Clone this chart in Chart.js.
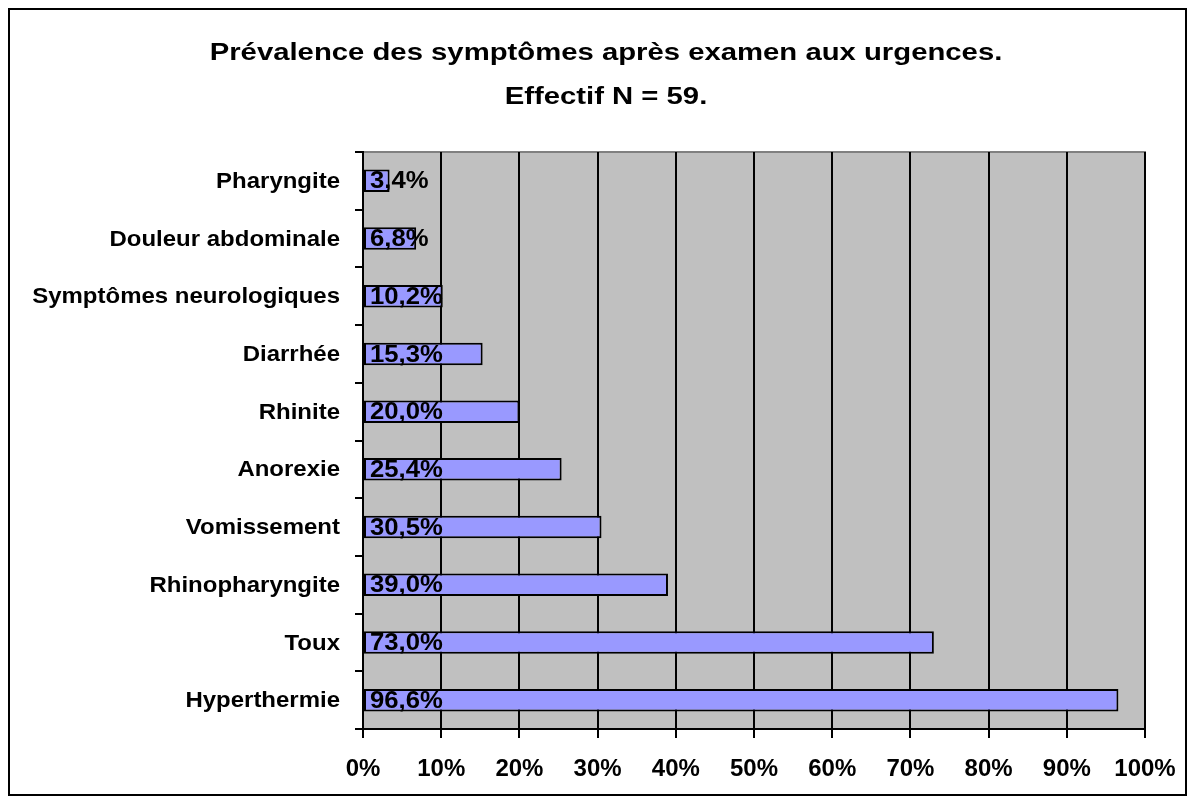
<!DOCTYPE html>
<html>
<head>
    <title>Prévalence des symptômes</title>
    <style>
        body { margin: 0; background: #fff; }
    </style>
    <script src="https://cdn.jsdelivr.net/npm/chart.js"></script>
</head>
<body>
    <canvas id="myChart" width="1194" height="803"></canvas>
    <script>
        // Data, top to bottom
        const symptoms = ['Pharyngite', 'Douleur abdominale', 'Symptômes neurologiques', 'Diarrhée', 'Rhinite',
            'Anorexie', 'Vomissement', 'Rhinopharyngite', 'Toux', 'Hyperthermie'];
        const prevalence = [3.4, 6.8, 10.2, 15.3, 20.0, 25.4, 30.5, 39.0, 73.0, 96.6];
        const titleLines = ['Prévalence des symptômes après examen aux urgences.', 'Effectif N = 59.'];

        const FONT = '"Liberation Sans", Arial, sans-serif';

        // the original text is drawn horizontally stretched, so scale it
        function wide(c, txt, x, y, sx, align) {
            c.save();
            c.translate(x, y);
            c.scale(sx, 1);
            c.textAlign = align;
            c.fillText(txt, 0, 0);
            c.restore();
        }

        const decor = {
            id: 'decor',
            beforeDraw(chart) {
                const c = chart.ctx, a = chart.chartArea;
                c.save();
                c.fillStyle = '#fff';
                c.fillRect(0, 0, chart.width, chart.height);
                c.fillStyle = '#c0c0c0';
                c.fillRect(a.left, a.top, a.right - a.left, a.bottom - a.top);
                c.strokeStyle = '#808080';
                c.lineWidth = 2;
                c.strokeRect(a.left, a.top, a.right - a.left, a.bottom - a.top);
                c.strokeStyle = '#000';
                c.lineWidth = 2;
                c.strokeRect(9, 9, 1177, 786);
                c.fillStyle = '#000';
                c.font = 'bold 24px ' + FONT;
                c.textBaseline = 'middle';
                wide(c, titleLines[0], 606, 53, 1.22, 'center');
                wide(c, titleLines[1], 606, 97, 1.22, 'center');
                c.restore();
            },
            afterDatasetsDraw(chart) {
                const c = chart.ctx, a = chart.chartArea;
                const meta = chart.getDatasetMeta(0);
                const ys = chart.scales.y;
                c.save();
                c.fillStyle = '#000';
                c.textBaseline = 'middle';
                c.font = 'bold 24px ' + FONT;
                meta.data.forEach((bar, i) => {
                    wide(c, prevalence[i].toFixed(1).replace('.', ',') + '%', a.left + 7, bar.y + 1, 1.07, 'left');
                });
                c.font = 'bold 22px ' + FONT;
                symptoms.forEach((s, i) => {
                    wide(c, s, 340, ys.getPixelForTick(i) + 1, 1.09, 'right');
                });
                c.restore();
            }
        };

        new Chart(document.getElementById('myChart'), {
            type: 'bar',
            data: {
                labels: symptoms,
                datasets: [{
                    data: prevalence,
                    backgroundColor: '#9999ff',
                    borderColor: '#000',
                    borderWidth: 2,
                    borderSkipped: false,
                    barPercentage: 0.39,
                    categoryPercentage: 1
                }]
            },
            options: {
                indexAxis: 'y',
                responsive: false,
                animation: false,
                layout: { padding: { top: 152, right: 49, left: 0, bottom: 0 } },
                plugins: {
                    legend: { display: false },
                    tooltip: { enabled: false }
                },
                scales: {
                    x: {
                        min: 0,
                        max: 100,
                        afterFit(s) { s.height = 74; },
                        ticks: {
                            stepSize: 10,
                            callback: v => v + '%',
                            color: '#000',
                            font: { family: FONT, size: 24, weight: 'bold' },
                            padding: 17,
                            maxRotation: 0
                        },
                        grid: { color: '#000', lineWidth: 2, tickLength: 9 },
                        border: { color: '#000', width: 2 }
                    },
                    y: {
                        afterFit(s) { s.width = 363; },
                        ticks: { display: false },
                        grid: { drawOnChartArea: false, color: '#000', lineWidth: 2, tickLength: 8 },
                        border: { color: '#000', width: 2 }
                    }
                }
            },
            plugins: [decor]
        });
    </script>
</body>
</html>
